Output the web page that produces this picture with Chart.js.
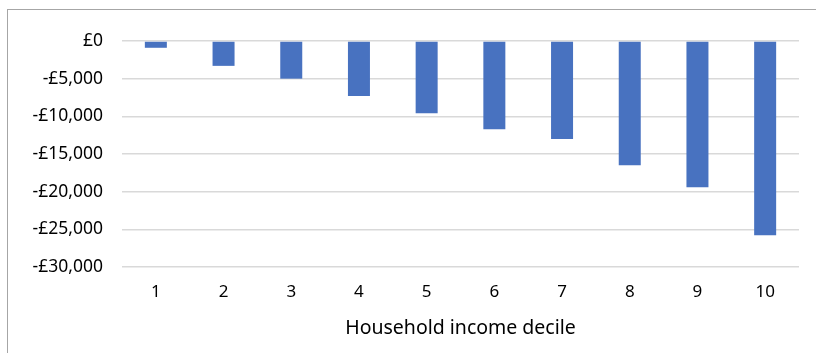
<!DOCTYPE html>
<html>
<head>
<meta charset="utf-8">
<script src="https://cdn.jsdelivr.net/npm/chart.js@4/dist/chart.umd.min.js"></script>
<style>
  html, body { margin: 0; padding: 0; background: #fff; overflow: hidden; }
  #frame {
    position: absolute; left: 7px; top: 9px;
    width: 900px; height: 400px;
    border: 1px solid #a6a6a6;
  }
  #wrap { position: absolute; left: 0; top: 0; width: 816px; height: 353px; }
</style>
</head>
<body>
<div id="frame"></div>
<div id="wrap"><canvas id="decileChart"></canvas></div>
<script>
const deciles = ["1", "2", "3", "4", "5", "6", "7", "8", "9", "10"];
const change = [-900, -3300, -5000, -7300, -9600, -11700, -13000, -16500, -19400, -25800];
const yTicks = [0, -5000, -10000, -15000, -20000, -25000, -30000];

const fontFamily = "'Noto Sans', 'Open Sans', sans-serif";

function pounds(v) {
  if (v === 0) return "£0";
  const s = Math.abs(v).toLocaleString("en-GB");
  return (v < 0 ? "-£" : "£") + s;
}

new Chart(document.getElementById("decileChart"), {
  type: "bar",
  data: {
    labels: deciles,
    datasets: [
      {
        label: "Change",
        data: change,
        backgroundColor: "#4872c0",
        borderWidth: 0,
        barPercentage: 0.325,
        categoryPercentage: 1,
      },
    ],
  },
  options: {
    responsive: true,
    maintainAspectRatio: false,
    animation: false,
    layout: { padding: { top: 41, right: 17, bottom: 0, left: 0 } },
    plugins: {
      legend: { display: false },
      tooltip: { enabled: false },
    },
    scales: {
      x: {
        grid: { display: false, drawTicks: false },
        border: { display: false },
        ticks: {
          color: "#000",
          padding: 15,
          font: { family: fontFamily, size: 17 },
        },
        title: {
          display: true,
          text: "Household income decile",
          color: "#000",
          font: { family: fontFamily, size: 19.5 },
          padding: { top: 4, bottom: 13 },
        },
        afterFit(scale) {
          scale.height = 86;
        },
      },
      y: {
        min: -30000,
        max: 0,
        afterBuildTicks(scale) {
          scale.ticks = yTicks.map((v) => ({ value: v }));
        },
        grid: { color: "#d9d9d9", lineWidth: 1.5, drawTicks: false },
        border: { display: false },
        ticks: {
          color: "#000",
          padding: 19,
          font: { family: fontFamily, size: 17.5 },
          callback: (v) => pounds(v),
        },
        afterFit(scale) {
          scale.width = 122;
        },
      },
    },
  },
});
</script>
</body>
</html>
